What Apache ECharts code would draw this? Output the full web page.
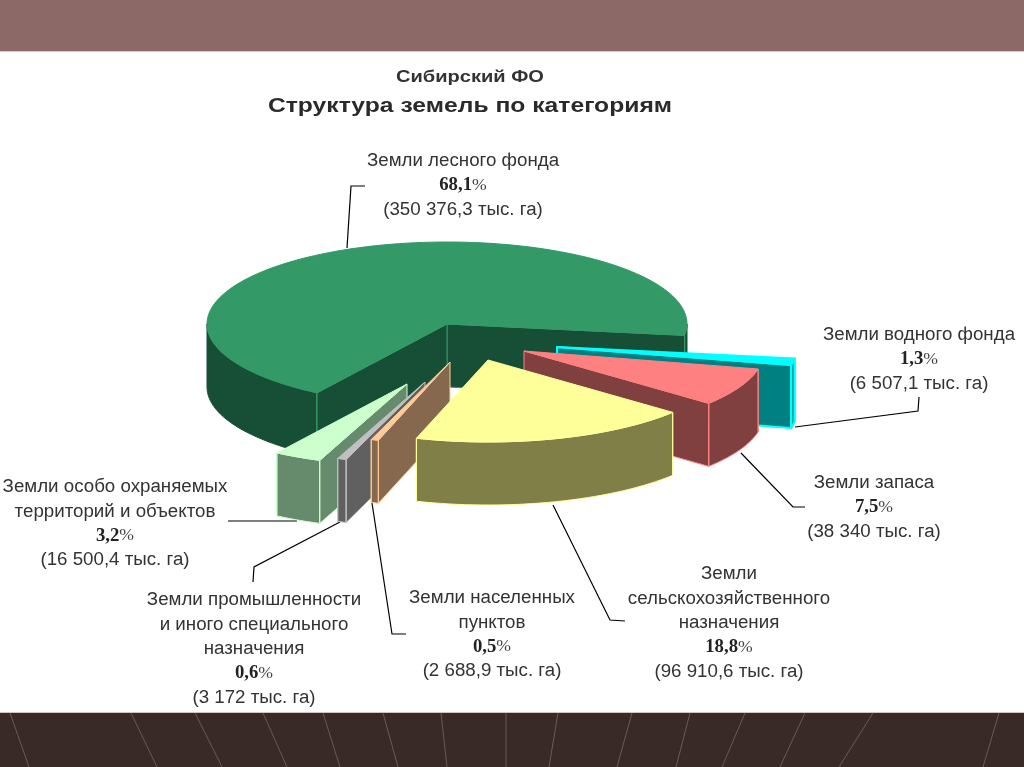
<!DOCTYPE html>
<html>
<head>
<meta charset="utf-8">
<title>Структура земель по категориям</title>
<style>
  html, body { margin: 0; padding: 0; background: #fff; }
  #chart { width: 1024px; height: 767px; }
</style>
<script src="https://cdn.jsdelivr.net/npm/echarts@6/dist/echarts.min.js"></script>
</head>
<body>
<div id="chart"></div>
<script>
// data, counter-clockwise from the forest slice
const categories = [
  "Земли лесного фонда",
  "Земли особо охраняемых\nтерриторий и объектов",
  "Земли промышленности\nи иного специального\nназначения",
  "Земли населенных\nпунктов",
  "Земли\nсельскохозяйственного\nназначения",
  "Земли запаса",
  "Земли водного фонда",
];
const shares = [68.1, 3.2, 0.6, 0.5, 18.8, 7.5, 1.3];
const areas = [
  "350 376,3", "16 500,4", "3 172", "2 688,9", "96 910,6", "38 340", "6 507,1",
];

// look of the slices
const topColors = ["#339966", "#ccffcc", "#c0c0c0", "#ffcc99", "#ffff99", "#ff8080", "#00ffff"];
const wallColors = ["#174f36", "#668a6c", "#606060", "#86684f", "#7f7f47", "#804040", "#008080"];
const rimColors = ["#174f36", "#ccffcc", "#c0c0c0", "#ffcc99", "#ffff99", "#ff8080", "#00ffff"];
const rimWidths = [1, 1, 1, 1, 1, 1, 2];
const paintOrder = [0, 3, 4, 5, 6, 2, 1];
const explodeX = [0, -40, -22, 3, 41, 77, 110];
const explodeY = [0, 60, 58, 38, 36, 27, 23];

const CX = 447, CY = 324, RX = 240, RY = 82, DEPTH = 63, START = -8;

// label centres (first line) and leader lines
const labelX = [463, 115, 254, 492, 729, 874, 919];
const labelY = [149, 475, 588, 586, 562, 471, 323];
const leaders = [
  [[347, 248], [351, 186], [365, 186]],
  [[297, 521], [228, 521]],
  [[340, 522], [254, 567], [253, 582]],
  [[372, 503], [392, 634], [406, 634]],
  [[553, 505], [610, 620], [625, 621]],
  [[741, 453], [793, 507], [805, 507]],
  [[795, 427], [918, 411], [919, 397]],
];
const rayTop = [10, 131, 195, 263, 323, 383, 441, 506, 558, 632, 690, 745, 805, 873, 999];
const rayBottom = [29, 157, 222, 287, 340, 398, 447, 506, 549, 617, 676, 722, 780, 839, 983];

const chart = echarts.init(document.getElementById("chart"));

function toRad(d) { return d * Math.PI / 180; }

function renderSlice(params, api) {
  const i = params.dataIndex;
  const sum = shares.reduce((a, b) => a + b, 0);
  const before = shares.slice(0, i).reduce((a, b) => a + b, 0);
  const t0 = START + before / sum * 360;
  const t1 = t0 + api.value(0) / sum * 360;
  const ox = CX + explodeX[i], oy = CY + explodeY[i];
  const pt = (t, d = 0) => [ox + RX * Math.cos(toRad(t)), oy - RY * Math.sin(toRad(t)) + d];
  const arc = (a, b, d = 0) => {
    const out = [], n = Math.max(2, Math.ceil((b - a) / 2));
    for (let k = 0; k <= n; k++) out.push(pt(a + (b - a) * k / n, d));
    return out;
  };
  const base = paintOrder[i] * 10;
  const poly = (points, fill, stroke, z2) => ({
    type: "polygon",
    z2,
    shape: { points },
    style: { fill, stroke, lineWidth: rimWidths[i], lineJoin: "round" },
  });
  const children = [];
  // curved wall, only the part that faces us
  [[-180, 0], [180, 360]].forEach(([lo, hi]) => {
    const a = Math.max(t0, lo), b = Math.min(t1, hi);
    if (a < b) children.push(poly(arc(a, b).concat(arc(a, b, DEPTH).reverse()), wallColors[i], rimColors[i], base));
  });
  // straight walls, only those that face us
  const wall = (t) => poly([[ox, oy], pt(t), pt(t, DEPTH), [ox, oy + DEPTH]], wallColors[i], topColors[i], base + 1);
  if (Math.cos(toRad(t0)) > 0) children.push(wall(t0));
  if (Math.cos(toRad(t1)) < 0) children.push(wall(t1));
  // corner edges catch the light
  [t0, t1].forEach((t) => {
    const p = pt(t), q = pt(t, DEPTH);
    children.push({
      type: "line",
      z2: base + 2,
      shape: { x1: p[0], y1: p[1], x2: q[0], y2: q[1] },
      style: { stroke: topColors[i], lineWidth: rimWidths[i] },
    });
  });
  children.push(poly([[ox, oy]].concat(arc(t0, t1)), topColors[i], topColors[i], base + 3));
  return { type: "group", children };
}

const labelFont = '"Liberation Sans", Arial, sans-serif';
const labels = categories.map((name, i) => ({
  type: "text",
  x: labelX[i],
  y: labelY[i],
  originX: 0,
  scaleX: 1.04,
  style: {
    text: `{n|${name.split("\n").join("}\n{n|")}}\n{p|${String(shares[i]).replace(".", ",")}}{q|%}\n{n|(${areas[i]} тыс. га)}`,
    align: "center",
    verticalAlign: "top",
    rich: {
      n: { font: `18px ${labelFont}`, fill: "#333", lineHeight: 24.4 },
      p: { font: 'bold 18px "Liberation Serif", serif', fill: "#222", lineHeight: 24.4 },
      q: { font: '17px "Liberation Serif", serif', fill: "#444", lineHeight: 24.4 },
    },
  },
}));

const titles = [
  { text: "Сибирский ФО", y: 77, size: 17, scale: 1.18, fill: "#333" },
  { text: "Структура земель по категориям", y: 106, size: 21, scale: 1.175, fill: "#2a2a2a" },
].map((t) => ({
  type: "text",
  x: 470,
  y: t.y,
  scaleX: t.scale,
  style: {
    text: t.text,
    align: "center",
    verticalAlign: "middle",
    font: `bold ${t.size}px ${labelFont}`,
    fill: t.fill,
  },
}));

const lines = leaders.map((points) => ({
  type: "polyline",
  shape: { points },
  style: { stroke: "#000", lineWidth: 1.2, fill: null },
}));

const rays = rayTop.map((x, i) => ({
  type: "line",
  shape: { x1: x, y1: 713, x2: rayBottom[i], y2: 767 },
  style: { stroke: "#6b5a55", lineWidth: 1 },
}));

chart.setOption({
  animation: false,
  backgroundColor: "#fff",
  graphic: [
    { type: "rect", shape: { x: 0, y: 0, width: 1024, height: 51 }, style: { fill: "#8c6866" } },
    { type: "rect", shape: { x: 0, y: 51, width: 1024, height: 1 }, style: { fill: "#d9cdb8" } },
    { type: "rect", shape: { x: 0, y: 712, width: 1024, height: 55 }, style: { fill: "#3a2a27" } },
    { type: "rect", shape: { x: 0, y: 712, width: 1024, height: 1 }, style: { fill: "#cfc6c0" } },
    ...rays,
    ...lines,
    ...titles,
    ...labels,
  ],
  series: [
    {
      type: "custom",
      coordinateSystem: "none",
      silent: true,
      data: shares,
      renderItem: renderSlice,
    },
  ],
});
</script>
</body>
</html>
